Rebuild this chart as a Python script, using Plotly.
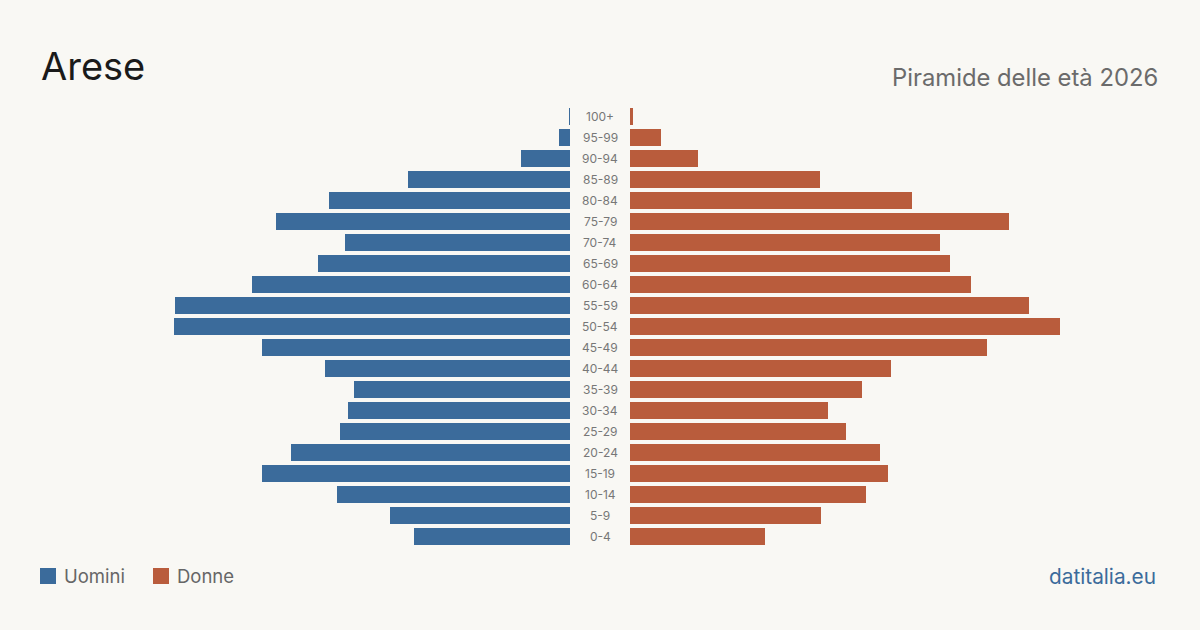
import plotly.graph_objects as go

age_groups = ["0-4", "5-9", "10-14", "15-19", "20-24", "25-29", "30-34", "35-39",
              "40-44", "45-49", "50-54", "55-59", "60-64", "65-69", "70-74",
              "75-79", "80-84", "85-89", "90-94", "95-99", "100+"]
men = [312, 360, 466, 616, 558, 460, 444, 432, 490, 616, 792, 790, 636, 504,
       450, 588, 482, 324, 98, 22, 2]
women = [270, 382, 472, 516, 500, 432, 396, 464, 522, 714, 860, 798, 682, 640,
         620, 758, 564, 380, 136, 62, 6]

BLUE = "#3b6b9b"
ORANGE = "#b95c3c"
BG = "#f9f8f4"
W, H = 1200, 630

fig = go.Figure()
fig.add_trace(go.Bar(y=age_groups, x=men, orientation="h", marker_color=BLUE,
                     marker_line_width=0,
                     name="Uomini", xaxis="x", yaxis="y", hoverinfo="x+y"))
fig.add_trace(go.Bar(y=age_groups, x=women, orientation="h", marker_color=ORANGE,
                     marker_line_width=0,
                     name="Donne", xaxis="x2", yaxis="y", hoverinfo="x+y"))

annotations = []
for g in age_groups:
    annotations.append(dict(x=600 / W, xref="paper", y=g, yref="y", text=g,
                            showarrow=False, xanchor="center", yanchor="middle",
                            font=dict(family="Inter", size=12, color="#777777")))

annotations += [
    dict(x=39 / W, y=1 - 66 / H, xref="paper", yref="paper", text="Arese",
         showarrow=False, xanchor="left", yanchor="middle",
         font=dict(family="Inter", size=38, color="#1a1a1a")),
    dict(x=1160 / W, y=1 - 77 / H, xref="paper", yref="paper",
         text="Piramide delle età 2026", showarrow=False, xanchor="right",
         yanchor="middle", font=dict(family="Inter", size=23.8, color="#6b6b6b")),
    dict(x=62 / W, y=1 - 576 / H, xref="paper", yref="paper", text="Uomini",
         showarrow=False, xanchor="left", yanchor="middle",
         font=dict(family="Inter", size=18.5, color="#666666")),
    dict(x=175 / W, y=1 - 576 / H, xref="paper", yref="paper", text="Donne",
         showarrow=False, xanchor="left", yanchor="middle",
         font=dict(family="Inter", size=18.5, color="#666666")),
    dict(x=1158 / W, y=1 - 576 / H, xref="paper", yref="paper", text="datitalia.eu",
         showarrow=False, xanchor="right", yanchor="middle",
         font=dict(family="Inter", size=20.8, color=BLUE)),
]

shapes = [
    dict(type="rect", xref="paper", yref="paper", x0=40 / W, x1=56 / W,
         y0=1 - 584 / H, y1=1 - 568 / H, fillcolor=BLUE, line_width=0),
    dict(type="rect", xref="paper", yref="paper", x0=153 / W, x1=169 / W,
         y0=1 - 584 / H, y1=1 - 568 / H, fillcolor=ORANGE, line_width=0),
]

fig.update_layout(
    width=W, height=H,
    paper_bgcolor=BG, plot_bgcolor=BG,
    margin=dict(l=0, r=0, t=0, b=0),
    showlegend=False,
    bargap=4 / 21,
    xaxis=dict(domain=[0, 570 / W], range=[1140, 0], visible=False, fixedrange=True),
    xaxis2=dict(domain=[630 / W, 1], range=[0, 1140], visible=False, fixedrange=True),
    yaxis=dict(domain=[83 / H, 524 / H], range=[-0.5, 20.5], type="category",
               categoryorder="array", categoryarray=age_groups, visible=False,
               fixedrange=True),
    annotations=annotations,
    shapes=shapes,
)

fig.write_html("out.html")
